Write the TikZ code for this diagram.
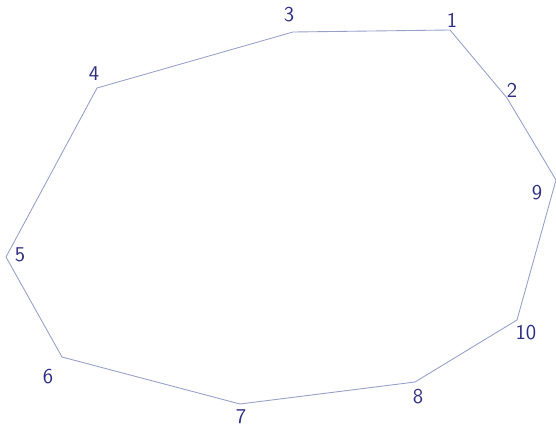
\documentclass[tikz,border=0pt]{standalone}
\usepackage{xcolor}
\usepackage{tikz}
\definecolor{edgeblue}{RGB}{150, 160, 200}
\definecolor{inkblue}{RGB}{45, 45, 130}

\begin{document}
\begin{tikzpicture}[
  x=0.02cm, y=-0.02cm,
  edge/.style={draw=edgeblue, line width=0.5pt, line join=round},
  num/.style={font=\large\sffamily, color=inkblue, inner sep=1pt}
]
  \useasboundingbox (0,0) rectangle (556,436);

  \coordinate (v1)  at (450, 30);
  \coordinate (v2)  at (507, 98);
  \coordinate (v9)  at (556, 180);
  \coordinate (v10) at (517, 320);
  \coordinate (v8)  at (415, 382);
  \coordinate (v7)  at (240, 404);
  \coordinate (v6)  at (62, 357);
  \coordinate (v5)  at (6, 257);
  \coordinate (v4)  at (97, 88);
  \coordinate (v3)  at (293, 32);

  \draw[edge] (v3) -- (v1) -- (v2) -- (v9) -- (v10) -- (v8)
              -- (v7) -- (v6) -- (v5) -- (v4) -- cycle;

  \node[num] (n1)  at (452, 20)  {1};
  \node[num] (n2)  at (512, 90)  {2};
  \node[num] (n9)  at (537, 193) {9};
  \node[num] (n10) at (526, 333) {10};
  \node[num] (n8)  at (418, 397) {8};
  \node[num] (n7)  at (241, 417) {7};
  \node[num] (n6)  at (48, 377)  {6};
  \node[num] (n5)  at (20, 255)  {5};
  \node[num] (n4)  at (94, 74)   {4};
  \node[num] (n3)  at (289, 15)  {3};
\end{tikzpicture}
\end{document}
